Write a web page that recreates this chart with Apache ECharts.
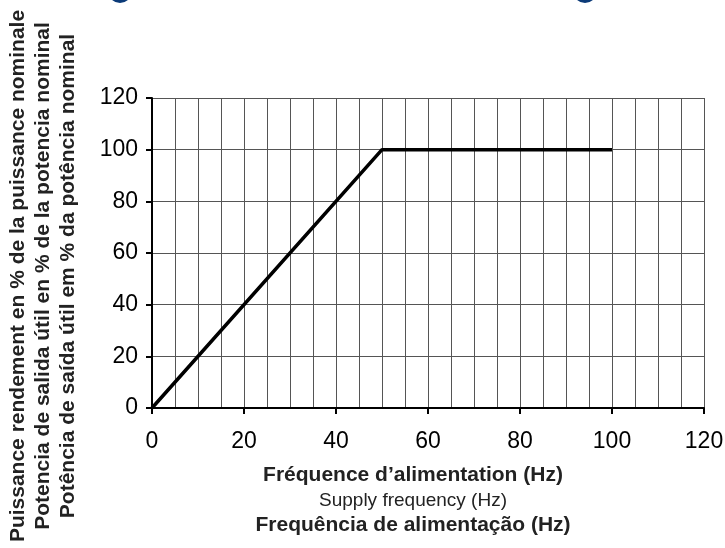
<!DOCTYPE html>
<html><head><meta charset="utf-8">
<script src="https://cdn.jsdelivr.net/npm/echarts@6/dist/echarts.min.js"></script>
<style>html,body{margin:0;padding:0;background:#fff}#c{width:725px;height:548px}</style>
</head><body><div id="c"></div>
<script>
var freqHz = [0, 50, 100];
var powerPct = [0, 100, 100];
var xTicks = [0, 20, 40, 60, 80, 100, 120];
var yTicks = [0, 20, 40, 60, 80, 100, 120];
var xNames = ['Fréquence d’alimentation (Hz)', 'Supply frequency (Hz)', 'Frequência de alimentação (Hz)'];
var yNames = ['Puissance rendement en % de la puissance nominale', 'Potencia de salida útil en % de la potencia nominal', 'Potência de saída útil em % da potência nominal'];

var chart = echarts.init(document.getElementById('c'), null, {renderer: 'canvas'});
var font = '"Liberation Sans", Arial, sans-serif';
chart.setOption({
  animation: false,
  textStyle: {fontFamily: font},
  grid: {left: 152, right: 21, top: 98, bottom: 140, containLabel: false, outerBoundsMode: 'none'},
  graphic: [
    {type: 'circle', shape: {cx: 120, cy: -9, r: 12}, style: {fill: '#0b3a78'}},
    {type: 'circle', shape: {cx: 585, cy: -9, r: 12}, style: {fill: '#0b3a78'}}
  ],
  xAxis: {
    type: 'value', min: xTicks[0], max: xTicks[xTicks.length - 1], interval: 20,
    axisLine: {show: true, onZero: false, lineStyle: {color: '#000', width: 2}},
    axisTick: {show: true, length: 6, lineStyle: {color: '#000', width: 2}},
    axisLabel: {color: '#000', fontSize: 23, fontFamily: font, margin: 22},
    splitLine: {show: true, lineStyle: {color: '#555', width: 1}},
    minorTick: {show: false, splitNumber: 4},
    minorSplitLine: {show: true, lineStyle: {color: '#555', width: 1}},
    name: '{b|' + xNames[0] + '}\n{n|' + xNames[1] + '}\n{b|' + xNames[2] + '}',
    nameLocation: 'middle', nameGap: 55,
    nameTextStyle: {
      color: '#222', align: 'center', padding: [0, 30, 0, 0],
      rich: {
        b: {fontSize: 21, fontWeight: 'bold', fontFamily: font, color: '#222', lineHeight: 25},
        n: {fontSize: 19, fontFamily: font, color: '#222', lineHeight: 25}
      }
    }
  },
  yAxis: {
    type: 'value', min: yTicks[0], max: yTicks[yTicks.length - 1], interval: 20,
    axisLine: {show: true, onZero: false, lineStyle: {color: '#000', width: 2}},
    axisTick: {show: true, length: 6, lineStyle: {color: '#000', width: 2}},
    axisLabel: {color: '#000', fontSize: 23, fontFamily: font, margin: 14},
    splitLine: {show: true, lineStyle: {color: '#555', width: 1}},
    name: '{b|' + yNames[0] + '}\n{b|' + yNames[1] + '}\n{b|' + yNames[2] + '}',
    nameLocation: 'middle', nameGap: 71, nameRotate: 90,
    nameTextStyle: {
      color: '#222', align: 'center', padding: [0, 46, 0, 0],
      rich: {
        b: {fontSize: 21, fontWeight: 'bold', fontFamily: font, color: '#222', lineHeight: 25}
      }
    }
  },
  series: [{
    type: 'line',
    data: freqHz.map(function (f, i) { return [f, powerPct[i]]; }),
    showSymbol: false, symbol: 'none',
    lineStyle: {color: '#000', width: 3.5},
    z: 5
  }]
});
</script></body></html>
